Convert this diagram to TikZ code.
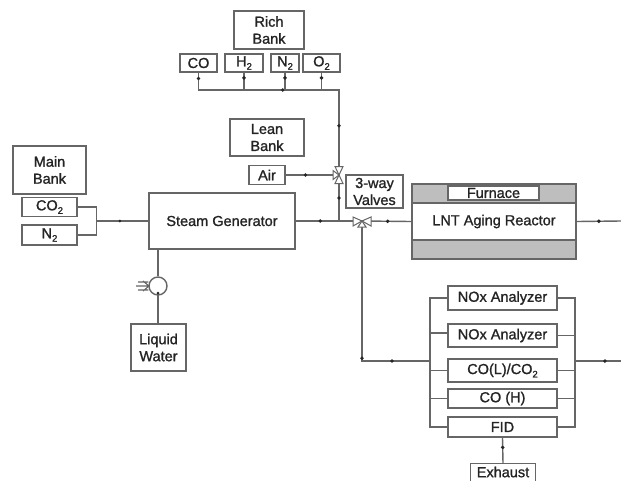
\documentclass[tikz,border=0pt]{standalone}
\usepackage{fontspec}
\setmainfont[FakeBold=1.2]{Liberation Sans}
\definecolor{ln}{HTML}{666666}
\definecolor{tx}{HTML}{242424}
\definecolor{fur}{HTML}{BEBEBE}
\tikzset{
 x=1pt,y=-1pt,
 box/.style={draw=ln,line width=1.4pt,fill=white,text=tx,inner sep=0pt,align=center,font=\fontsize{14.5}{17}\selectfont},
 pipe/.style={draw=ln,line width=1.4pt},
 jd/.style={circle,fill=black!85,inner sep=0pt,minimum size=3.8pt},
 vtri/.style={draw=ln,line width=1pt,fill=white},
}
\newcommand{\lowsub}[1]{\raisebox{-0.45ex}{\fontsize{9.5}{10}\selectfont #1}}
\begin{document}
\begin{tikzpicture}
\useasboundingbox (0,0) rectangle (621,480);
\fill[white] (0,0) rectangle (621,480);
% reactor
\node[box,fill=fur,minimum width=164pt,minimum height=75pt] (shell) at (494,221.5) {};
\node[box,minimum width=164pt,minimum height=37pt] (reactor) at (494,221.5) {LNT Aging Reactor};
\node[box,minimum width=91pt,minimum height=14pt] (furnace) at (493.5,193) {Furnace};
% boxes
\node[box,minimum width=70pt,minimum height=38pt] (rich) at (269,30) {Rich\\Bank};
\node[box,minimum width=37pt,minimum height=18pt] (co) at (198.5,63) {CO};
\node[box,minimum width=38pt,minimum height=18pt] (h2) at (244,63) {H\lowsub{2}};
\node[box,minimum width=28pt,minimum height=18pt] (n2) at (285,63) {N\lowsub{2}};
\node[box,minimum width=37pt,minimum height=18pt] (o2) at (321.5,63) {O\lowsub{2}};
\node[box,minimum width=74pt,minimum height=37pt] (lean) at (267,137.5) {Lean\\Bank};
\node[box,minimum width=36pt,minimum height=19pt] (air) at (267,175) {Air};
\node[box,minimum width=57pt,minimum height=33pt] (way) at (374.5,191.5) {3-way\\Valves};
\node[box,minimum width=146pt,minimum height=56pt] (steam) at (222,221) {Steam Generator};
\node[box,minimum width=73pt,minimum height=48pt] (main) at (49.5,170) {Main\\Bank};
\node[box,minimum width=55pt,minimum height=19pt] (co2) at (49.5,207) {CO\lowsub{2}};
\node[box,minimum width=55pt,minimum height=20pt] (n2m) at (49.5,235) {N\lowsub{2}};
\node[box,minimum width=55pt,minimum height=47pt] (water) at (158.5,347.5) {Liquid\\Water};
\node[box,minimum width=109pt,minimum height=24pt] (a1) at (502.5,298) {NOx Analyzer};
\node[box,minimum width=109pt,minimum height=23pt] (a2) at (502.5,335.5) {NOx Analyzer};
\node[box,minimum width=109pt,minimum height=23pt] (a3) at (502.5,370.5) {CO(L)/CO\lowsub{2}};
\node[box,minimum width=109pt,minimum height=19pt] (a4) at (502.5,398.5) {CO (H)};
\node[box,minimum width=109pt,minimum height=20pt] (a5) at (502.5,427) {FID};
\node[box,draw=none,fill=none,minimum width=64pt,minimum height=16pt] (exhaust) at (503,472) {Exhaust};
\draw[pipe] (exhaust.south west) |- (exhaust.north east) -- (exhaust.south east);
% coordinates
\coordinate (v1) at (339,175);
\coordinate (v2) at (362,221);
\coordinate (rb) at (339,90);
\coordinate (tee) at (339,221);
\coordinate (cb) at (96,221);
\coordinate (bl) at (430,361);
\coordinate (br) at (575,361);
\coordinate (outa) at (621,221);
\coordinate (outb) at (621,361);
% pipes
\draw[pipe] (co.south) |- node[jd,pos=.17] (d1) {} node[jd,pos=.8] (d2) {} (rb) -- node[jd,pos=.42] (d3) {} (v1);
\draw[pipe] (h2.south) -- node[jd,pos=.3] (d4) {} (h2.south |- rb);
\draw[pipe] (n2.south) -- node[jd,pos=.3] (d5) {} (n2.south |- rb);
\draw[pipe] (o2.south) -- node[jd,pos=.3] (d6) {} (o2.south |- rb);
\draw[pipe] (air.east) -- node[jd,pos=.37] (d7) {} (v1);
\draw[pipe] (v1) -- node[jd,pos=.5] (d8) {} (tee);
\draw[pipe] (steam.east) -- node[jd,pos=.37] (d9) {} (v2);
\draw[pipe] (v2) -- node[jd,pos=.52] (d10) {} (shell.west);
\draw[pipe] (shell.east) -- node[jd,pos=.5] (d11) {} (outa);
\draw[pipe] (v2) |- node[jd,pos=.49] (d12) {} node[jd,pos=.72] (d13) {} (bl);
\draw[pipe] (co2.east) -- ++(19,0) coordinate (c1) -- (c1 |- n2m.east) -- (n2m.east);
\draw[pipe] (c1 |- cb) -- node[jd,pos=.45,minimum size=3pt] (d14) {} (steam.west |- cb);
\draw[pipe] (a1.west) -| (bl) |- (a5.west);
\draw[pipe] (a2.west -| bl) ++(0,-2.5) -- ++(18,0);
\draw[pipe] (a3.west) -- (a3.west -| bl);
\draw[pipe] (a4.west) -- (a4.west -| bl);
\draw[pipe] (a1.east) -| (br) |- (a5.east);
\draw[pipe] (a2.east) -- (a2.east -| br);
\draw[pipe] (a3.east) -- (a3.east -| br);
\draw[pipe] (a4.east) -- (a4.east -| br);
\draw[pipe] (br) -- node[jd,pos=.65] (d15) {} (outb);
\draw[pipe] (a5.south) -- node[jd,pos=.38] (d16) {} (exhaust.north);
% pump
\node[circle,draw=ln,line width=1.4pt,fill=white,minimum size=18pt,inner sep=0pt] (pump) at (158,286) {};
\draw[pipe] (steam.south -| pump) -- (pump.north);
\draw[pipe] (water.north -| pump) -- (158,293);
\node[jd,minimum size=3pt] (d17) at (158,293) {};
\draw[draw=ln,line width=1.1pt] (pump.west) -- (136,286) (pump.west) ++(0,-4) -- (138,282) (pump.west) ++(0,4) -- (138,290) (143,281) -- (149,286) -- (143,291);
% valves
\draw[vtri] (335,166.5) -- (343,166.5) -- (339,175) -- cycle (335,183.5) -- (343,183.5) -- (339,175) -- cycle;
\draw[vtri] (339,175) -- (333,170.5) -- (333,179.5) -- cycle;
\draw[vtri] (362,221) -- (353,217) -- (353,226) -- cycle (362,221) -- (371,217) -- (371,226) -- cycle;
\draw[vtri] (362,221) -- (358,227) -- (366,227) -- cycle;
\end{tikzpicture}
\end{document}
